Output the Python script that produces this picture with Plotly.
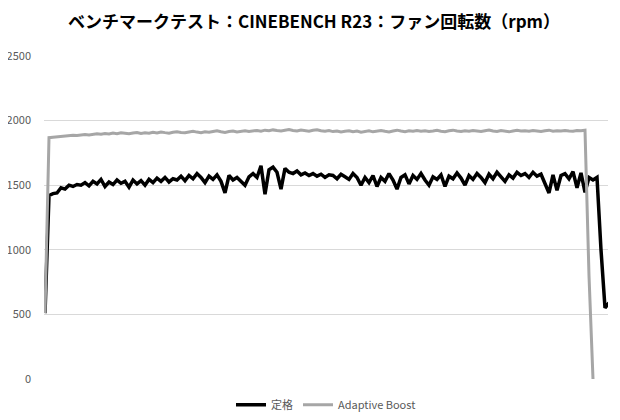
import plotly.graph_objects as go

title_text = "ベンチマークテスト：CINEBENCH R23：ファン回転数（rpm）"
series_names = ["定格", "Adaptive Boost"]
y_ticks = [0, 500, 1000, 1500, 2000, 2500]

teikaku = [
    510, 1420, 1435, 1440, 1480, 1470, 1500, 1490, 1505, 1500,
    1520, 1495, 1530, 1510, 1545, 1490, 1525, 1505, 1540, 1515,
    1530, 1485, 1540, 1510, 1535, 1500, 1545, 1520, 1555, 1530,
    1560, 1525, 1550, 1540, 1570, 1535, 1575, 1550, 1590, 1560,
    1520, 1570, 1545, 1580, 1530, 1440, 1575, 1540, 1560, 1530,
    1500, 1565, 1590, 1560, 1650, 1430, 1620, 1640, 1600, 1470,
    1630, 1600, 1590, 1610, 1580, 1595, 1575, 1590, 1570, 1585,
    1560, 1580, 1575, 1550, 1585, 1565, 1545, 1590, 1560, 1500,
    1560, 1520, 1575, 1490, 1560, 1530, 1590, 1540, 1470, 1560,
    1580, 1510, 1575, 1545, 1590, 1540, 1500, 1565, 1545, 1580,
    1490, 1570, 1550, 1595, 1555, 1500, 1575, 1545, 1590, 1560,
    1520, 1585, 1550, 1600, 1560, 1530, 1580, 1555, 1600, 1575,
    1590, 1560, 1600, 1570, 1585, 1520, 1440, 1580, 1460, 1575,
    1590, 1550, 1605, 1480, 1595, 1445, 1560, 1540, 1560, 1000,
    550, 590,
]

adaptive = [
    510, 1868, 1872, 1875, 1873, 1880,
    1882, 1886, 1884, 1890, 1893, 1889, 1895, 1898, 1894,
    1900, 1897, 1903, 1899, 1905, 1902, 1898, 1904, 1908, 1901, 1906, 1903,
    1909, 1905, 1912, 1907, 1903, 1910, 1914, 1908, 1906, 1912, 1918, 1911,
    1907, 1913, 1910, 1916, 1922, 1914, 1909, 1915, 1919, 1912, 1917, 1921, 1915,
    1920, 1924, 1918, 1926, 1921, 1928, 1923, 1919, 1925, 1930, 1924, 1920,
    1927, 1922, 1918, 1925, 1929, 1921, 1917, 1923,
    1915, 1920, 1912, 1918, 1922, 1914, 1919, 1910, 1916, 1921, 1913, 1918,
    1924, 1917, 1912, 1920, 1926, 1919, 1914, 1921, 1917, 1923, 1918,
    1922, 1916, 1920, 1925, 1918, 1914, 1921, 1926, 1919, 1915, 1922, 1918,
    1924, 1920, 1915, 1921, 1927, 1919, 1916, 1923, 1918, 1913, 1920, 1925,
    1919, 1922, 1917, 1924, 1920, 1915, 1921, 1926, 1918, 1922, 1919, 1924,
    1920, 1917, 1923, 1921, 1925,
    800, 0,
]

fig = go.Figure()
fig.add_trace(go.Scatter(
    y=teikaku, mode="lines", name=series_names[0],
    line=dict(color="#000000", width=3.5),
))
fig.add_trace(go.Scatter(
    y=adaptive, mode="lines", name=series_names[1],
    line=dict(color="#a6a6a6", width=3),
))

fig.update_layout(
    width=612, height=412,
    margin=dict(l=36, r=12, t=48, b=41, autoexpand=False),
    paper_bgcolor="white", plot_bgcolor="white",
    font=dict(family="Noto Sans CJK JP, Noto Sans, sans-serif", color="#595959", size=11),
    title=dict(
        text="<b>" + title_text + "</b>",
        x=0.5, xanchor="center", y=0.966, yanchor="middle",
        font=dict(size=17, color="#000000", family="Noto Sans CJK JP"),
    ),
    showlegend=True,
    legend=dict(
        orientation="h", x=0.5, xanchor="center", y=-0.035, yanchor="top",
        font=dict(size=11, color="#595959"),
        itemwidth=30,
    ),
    xaxis=dict(
        range=[-0.25, 140.75], showgrid=False, zeroline=False,
        showticklabels=False, ticks="", showline=False, automargin=False,
    ),
    yaxis=dict(
        range=[0, 2500], tickvals=y_ticks, showgrid=True, gridcolor="#d9d9d9",
        gridwidth=1, zeroline=False, showline=False, ticks="",
        ticklabelstandoff=12, tickfont=dict(size=11, color="#595959"),
        automargin=False,
    ),
)

fig.write_html("out.html")
